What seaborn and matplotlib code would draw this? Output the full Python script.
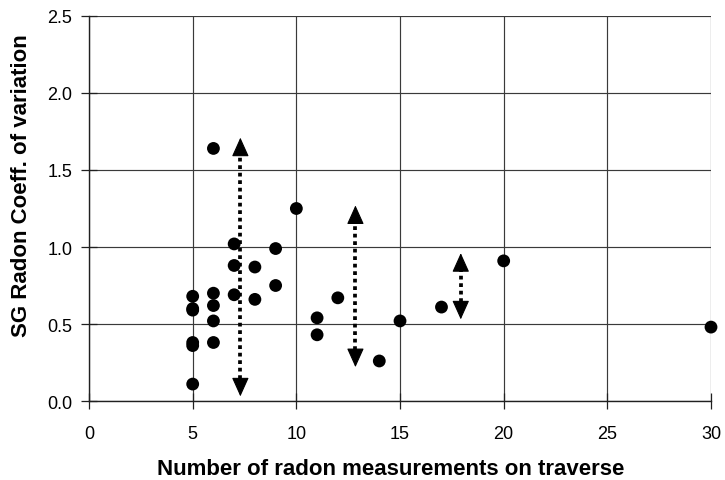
import matplotlib
matplotlib.use("Agg")
import matplotlib.pyplot as plt
import seaborn as sns
import pandas as pd

# Data
n_measurements = [6, 10, 7, 9, 7, 8, 9, 5, 6, 7, 5, 5, 6, 8, 6, 5, 5, 6, 5, 11, 11, 12, 14, 15, 17, 20, 30]
coeff_variation = [1.64, 1.25, 1.02, 0.99, 0.88, 0.87, 0.75, 0.68, 0.70, 0.69, 0.60, 0.59, 0.62, 0.66,
                   0.52, 0.38, 0.36, 0.38, 0.11, 0.54, 0.43, 0.67, 0.26, 0.52, 0.61, 0.91, 0.48]

# Double-headed range arrows (x, bottom tip, top tip)
arrow_x = [7.3, 12.85, 17.93]
arrow_low = [0.03, 0.22, 0.53]
arrow_high = [1.71, 1.27, 0.96]

x_ticks = [0, 5, 10, 15, 20, 25, 30]
y_ticks = [0.0, 0.5, 1.0, 1.5, 2.0, 2.5]

df = pd.DataFrame({"n": n_measurements, "cv": coeff_variation})

sns.set_style("white")
plt.rcParams["font.family"] = ["Liberation Sans", "DejaVu Sans"]
plt.rcParams["text.color"] = "black"
plt.rcParams["axes.labelcolor"] = "black"
plt.rcParams["xtick.color"] = "black"
plt.rcParams["ytick.color"] = "black"

fig = plt.figure(figsize=(7.25, 4.81), dpi=100)
ax = fig.add_axes([0.1228, 0.1642, 0.8579, 0.8005])

ax.set_xlim(0, 30)
ax.set_ylim(0, 2.5)
ax.set_xticks(x_ticks)
ax.set_yticks(y_ticks)
ax.set_yticklabels([f"{v:.1f}" for v in y_ticks])
ax.grid(True, color="#3a3a3a", linewidth=0.85)
ax.set_axisbelow(True)

for s in ["top", "right"]:
    ax.spines[s].set_visible(False)
for s in ["left", "bottom"]:
    ax.spines[s].set_color("#202020")
    ax.spines[s].set_linewidth(1.0)

ax.tick_params(axis="both", which="major", direction="inout", length=12, width=0.9,
               color="#202020", labelcolor="black", labelsize=13, bottom=True, left=True)
ax.tick_params(axis="x", pad=11)
ax.tick_params(axis="y", pad=6)

# Arrows
head_len = 0.11  # data units
for x, lo, hi in zip(arrow_x, arrow_low, arrow_high):
    ax.plot([x, x], [lo + head_len, hi - head_len], color="black", linestyle=(0, (1, 1)),
            linewidth=2.7, dash_capstyle="butt", zorder=3)
    for tip, base in ((hi, hi - head_len), (lo, lo + head_len)):
        ax.annotate("", xy=(x, tip), xytext=(x, base),
                    arrowprops=dict(arrowstyle="-|>,head_length=1.0,head_width=0.45", color="black",
                                    lw=0.8, shrinkA=0, shrinkB=0, mutation_scale=12), zorder=4)

sns.scatterplot(data=df, x="n", y="cv", ax=ax, color="black", s=85, edgecolor="none",
                zorder=5, clip_on=False)

ax.set_xlabel("Number of radon measurements on traverse", fontsize=16, fontweight="bold", color="black")
ax.set_ylabel("SG Radon Coeff. of variation", fontsize=16, fontweight="bold", color="black")
ax.xaxis.set_label_coords(0.4855, -0.148)
ax.yaxis.set_label_coords(-0.0916, 0.561)

fig.savefig("out.png", dpi=100)
